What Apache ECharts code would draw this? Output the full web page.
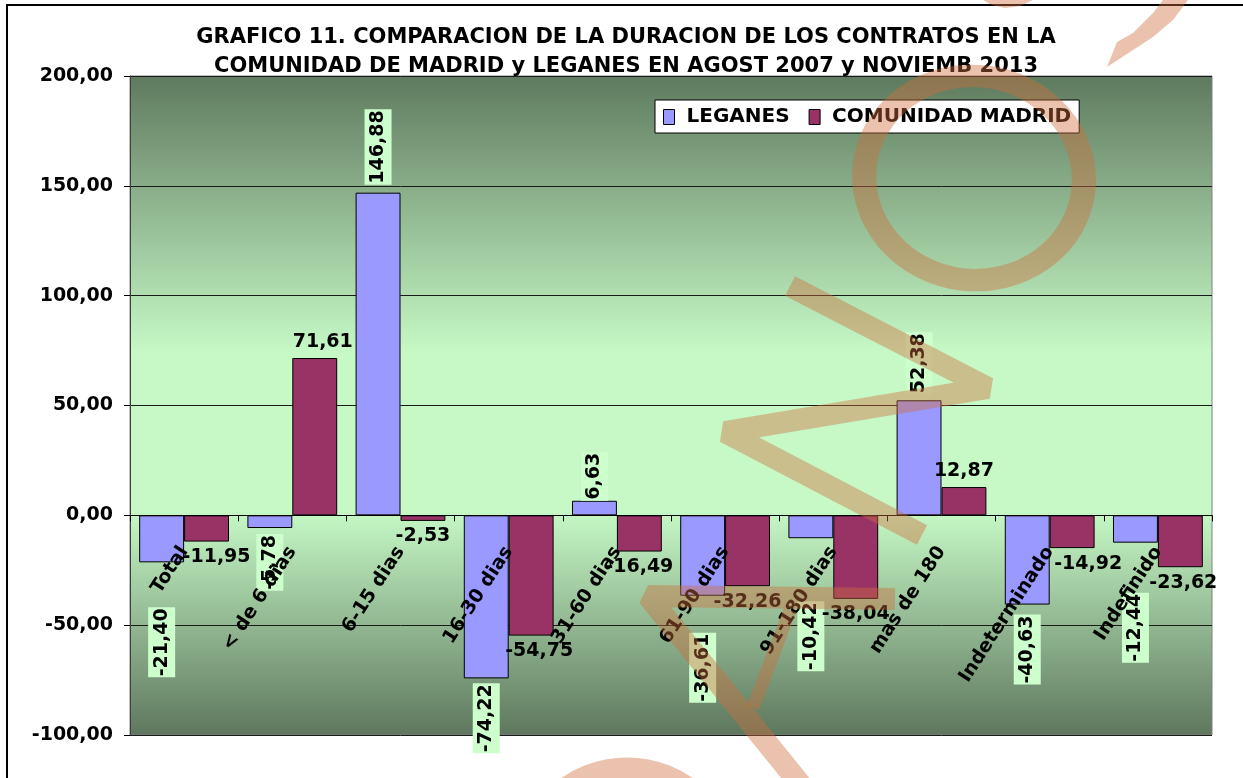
<!DOCTYPE html>
<html>
<head>
<meta charset="utf-8">
<title>Grafico 11</title>
<script src="https://cdn.jsdelivr.net/npm/echarts@6/dist/echarts.min.js"></script>
<style>
  html, body { margin: 0; padding: 0; background: #fff; }
  #chart { width: 1243px; height: 778px; }
</style>
</head>
<body>
<div id="chart"></div>
<script>
// datos del grafico
var categorias = ['Total', '< de 6 dias', '6-15 dias', '16-30 dias', '31-60 dias',
    '61-90 dias', '91-180 dias', 'mas de 180', 'Indeterminado', 'Indefinido'];
var leganes = [-21.40, -5.78, 146.88, -74.22, 6.63, -36.61, -10.42, 52.38, -40.63, -12.44];
var madrid = [-11.95, 71.61, -2.53, -54.75, -16.49, -32.26, -38.04, 12.87, -14.92, -23.62];
var ticksY = { min: -100, max: 200, step: 50 };

// separacion de las etiquetas (como en la hoja original)
var gapLeganes = [45, 6, 8, 5, 0, 37, 63, 6, 10, 50];
var shiftMadrid = [10, 8, 0, 8, 0, 0, 0, 0, 16, 3];

var FONT = "'DejaVu Sans', sans-serif";
var WM = 'rgba(205,110,60,0.42)';

var GRID = { left: 130, right: 31, top: 76, bottom: 43 };
var plotH = 778 - GRID.top - GRID.bottom;
// el eje de categorias va sobre el cero
var zeroOffset = -plotH * (0 - ticksY.min) / (ticksY.max - ticksY.min);

function coma(v) {
    return v.toFixed(2).replace('.', ',');
}

var chart = echarts.init(document.getElementById('chart'));

var dataLeganes = leganes.map(function (v, i) {
    return {
        value: v,
        label: {
            position: v >= 0 ? 'top' : 'bottom',
            distance: gapLeganes[i],
            align: v >= 0 ? 'left' : 'right',
            verticalAlign: 'middle'
        }
    };
});

var dataMadrid = madrid.map(function (v, i) {
    return {
        value: v,
        label: {
            position: v >= 0 ? 'top' : 'bottom',
            offset: [shiftMadrid[i], 0]
        }
    };
});

var option = {
    animation: false,
    title: {
        text: 'GRAFICO 11. COMPARACION DE LA DURACION DE LOS CONTRATOS EN LA\nCOMUNIDAD DE MADRID y LEGANES EN AGOST 2007 y NOVIEMB 2013',
        left: 621,
        textAlign: 'center',
        top: 18,
        textStyle: { fontFamily: FONT, fontWeight: 'bold', fontSize: 21, lineHeight: 29, color: '#000' }
    },
    legend: {
        left: 655,
        top: 100,
        backgroundColor: '#fff',
        borderColor: '#000',
        borderWidth: 1,
        padding: [7, 8, 6, 8],
        itemWidth: 11,
        itemHeight: 15,
        itemGap: 19,
        textStyle: { fontFamily: FONT, fontWeight: 'bold', fontSize: 20, color: '#000', padding: [0, 0, 0, 7] },
        data: [
            { name: 'LEGANES', icon: 'rect', itemStyle: { borderColor: '#000', borderWidth: 1 } },
            { name: 'COMUNIDAD MADRID', icon: 'rect', itemStyle: { borderColor: '#000', borderWidth: 1 } }
        ]
    },
    grid: {
        left: GRID.left, right: GRID.right, top: GRID.top, bottom: GRID.bottom,
        containLabel: false,
        outerBoundsMode: 'none',
        show: true,
        borderColor: '#808080',
        borderWidth: 1,
        backgroundColor: new echarts.graphic.LinearGradient(0, 0, 0, 1, [
            { offset: 0, color: '#5f7a5f' },
            { offset: 0.42, color: '#c6f9c6' },
            { offset: 0.66, color: '#c6f9c6' },
            { offset: 1, color: '#5e775e' }
        ])
    },
    xAxis: {
        type: 'category',
        data: categorias,
        position: 'bottom',
        offset: zeroOffset,
        z: 5,
        axisLine: { onZero: false, lineStyle: { color: '#000', width: 1 } },
        axisTick: { show: true, length: 6, lineStyle: { color: '#000' } },
        axisLabel: {
            interval: 0,
            rotate: 57,
            margin: 33,
            fontFamily: FONT, fontWeight: 'bold', fontSize: 19, color: '#000'
        }
    },
    yAxis: {
        type: 'value',
        min: ticksY.min,
        max: ticksY.max,
        interval: ticksY.step,
        axisLine: { show: true, lineStyle: { color: '#404040', width: 1 } },
        axisTick: { show: true, length: 6, lineStyle: { color: '#000' } },
        splitLine: { lineStyle: { color: '#1a1a1a', width: 1 } },
        axisLabel: {
            margin: 17,
            formatter: coma,
            fontFamily: FONT, fontWeight: 'bold', fontSize: 19, color: '#000'
        }
    },
    series: [
        {
            name: 'LEGANES',
            type: 'bar',
            data: dataLeganes,
            barGap: '0%',
            barCategoryGap: '17%',
            itemStyle: { color: '#9999ff', borderColor: '#000', borderWidth: 1 },
            label: {
                show: true,
                rotate: 90,
                formatter: function (p) { return coma(p.value); },
                fontFamily: FONT, fontWeight: 'bold', fontSize: 19, color: '#000',
                backgroundColor: '#ccffcc',
                padding: [4, 1]
            },
            z: 3
        },
        {
            name: 'COMUNIDAD MADRID',
            type: 'bar',
            data: dataMadrid,
            itemStyle: { color: '#993366', borderColor: '#000', borderWidth: 1 },
            label: {
                show: true,
                distance: 6,
                formatter: function (p) { return coma(p.value); },
                fontFamily: FONT, fontWeight: 'bold', fontSize: 19, color: '#000'
            },
            z: 3
        }
    ],
    graphic: [
        {
            type: 'rect',
            silent: true,
            shape: { x: 7, y: 5, width: 1260, height: 800 },
            style: { fill: null, stroke: '#000', lineWidth: 2 },
            z: 0
        },
        {
            type: 'group',
            silent: true,
            z: 100,
            children: [
                // marca de agua
                {
                    type: 'circle', x: 974, y: 178, scaleX: 1.1, scaleY: 1.02, rotation: -0.12,
                    shape: { cx: 0, cy: 0, r: 100 },
                    style: { fill: null, stroke: WM, lineWidth: 22 }, z: 100
                },
                {
                    type: 'polyline',
                    shape: { points: [[790, 286], [988, 388], [725, 432], [922, 535]] },
                    style: { fill: null, stroke: WM, lineWidth: 22, lineJoin: 'bevel' }, z: 100
                },
                {
                    type: 'polyline',
                    shape: { points: [[895, 599], [648, 596], [805, 790]] },
                    style: { fill: null, stroke: WM, lineWidth: 22, lineJoin: 'bevel' }, z: 100
                },
                {
                    type: 'line',
                    shape: { x1: 753, y1: 708, x2: 790, y2: 610 },
                    style: { stroke: WM, lineWidth: 13 }, z: 100
                },
                {
                    type: 'circle',
                    shape: { cx: 627, cy: 873, r: 103 },
                    style: { fill: null, stroke: WM, lineWidth: 25 }, z: 100
                },
                {
                    type: 'polygon',
                    shape: { points: [[1163, 0], [1188, 0], [1173, 20], [1153, 37], [1133, 50], [1107, 67],
                        [1117, 42], [1133, 33], [1153, 13]] },
                    style: { fill: WM }, z: 100
                },
                {
                    type: 'polygon',
                    shape: { points: [[983, 0], [1033, 0], [1020, 6], [1005, 8], [992, 5]] },
                    style: { fill: WM }, z: 100
                }
            ]
        }
    ]
};

chart.setOption(option);
</script>
</body>
</html>
